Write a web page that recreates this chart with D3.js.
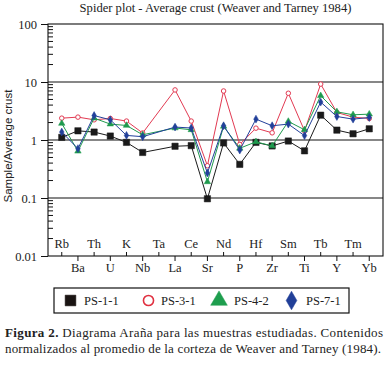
<!DOCTYPE html>
<html><head><meta charset="utf-8">
<script src="https://cdn.jsdelivr.net/npm/d3@7"></script>
<style>body{margin:0;background:#fff}svg{display:block}</style>
</head><body>
<svg id="c" width="388" height="366"></svg>
<script>
const elements = ["Rb","Ba","Th","U","K","Nb","Ta","La","Ce","Sr","Nd","P","Hf","Zr","Sm","Ti","Tb","Y","Tm","Yb"];
const ps11 = [1.11,1.44,1.37,1.17,0.91,0.61,null,0.78,0.80,0.097,0.89,0.38,0.91,0.79,0.96,0.65,2.68,1.48,1.28,1.56];
const ps31 = [2.38,2.48,2.23,2.35,2.12,1.32,null,7.3,2.12,0.36,7.0,0.84,1.6,1.33,6.4,1.44,9.2,2.98,2.48,2.35];
const ps42 = [1.93,0.64,2.38,1.88,1.78,1.23,null,1.61,1.50,0.19,1.72,0.72,0.93,0.79,2.09,1.50,5.8,3.06,2.72,2.79];
const ps71 = [1.37,0.71,2.64,2.23,1.20,1.14,null,1.67,1.61,0.27,1.76,0.67,2.29,1.76,1.88,1.19,4.5,2.54,2.29,2.44];
const seriesNames = ["PS-1-1","PS-3-1","PS-4-2","PS-7-1"];
const yTickValues = [0.01,0.1,1,10,100];
const yTickLabels = ["0.01","0.1","1","10","100"];
const titleText = "Spider plot - Average crust (Weaver and Tarney 1984)";
const yTitle = "Sample/Average crust";
const captionBold = "Figura 2.";
const captionLine1 = " Diagrama Araña para las muestras estudiadas. Contenidos";
const captionLine2 = "normalizados al promedio de la corteza de Weaver and Tarney (1984).";

const svg = d3.select("#c");
const L = 48, R = 383, T = 24, B = 256;
const serif = "'Liberation Serif','Times New Roman',serif";
const sans = "'Liberation Sans',Arial,sans-serif";

const x = d3.scalePoint().domain(elements).range([L, R]).padding(0.85);
const y = d3.scaleLog().domain([0.01, 100]).range([B, T]);

// title
svg.append("text").attr("x", (L+R)/2).attr("y", 12).attr("text-anchor","middle")
  .attr("font-family", serif).attr("font-size", 12.6).attr("fill","#222").text(titleText);

// y title
svg.append("text").attr("transform", `translate(11.5,${(T+B)/2 + 6}) rotate(-90)`)
  .attr("text-anchor","middle").attr("font-family", sans).attr("font-size", 11.5).attr("fill","#222").text(yTitle);

// gridlines at inner decades
svg.append("g").selectAll("line").data([0.1,1,10]).join("line")
  .attr("x1", L).attr("x2", R).attr("y1", d=>y(d)).attr("y2", d=>y(d))
  .attr("stroke","#111").attr("stroke-width",1.1);

// frame
svg.append("rect").attr("x", L).attr("y", T).attr("width", R-L).attr("height", B-T)
  .attr("fill","none").attr("stroke","#111").attr("stroke-width",1.1);

// y axis: major ticks outward, minor inward
const yAxis = svg.append("g").attr("transform", `translate(${L},0)`)
  .call(d3.axisLeft(y).tickValues(yTickValues).tickSize(7).tickFormat((d,i)=>yTickLabels[i]));
yAxis.select(".domain").remove();
yAxis.selectAll("line").attr("stroke","#111");
yAxis.selectAll("text").attr("font-family", serif).attr("font-size", 12.5).attr("fill","#222").attr("dx", -1);
const minors = [];
for (let e = -2; e < 2; e++) for (let m = 2; m <= 9; m++) minors.push(m * Math.pow(10, e));
svg.append("g").selectAll("line").data(minors).join("line")
  .attr("x1", L).attr("x2", L+5).attr("y1", d=>y(d)).attr("y2", d=>y(d))
  .attr("stroke","#111").attr("stroke-width",1);

// x ticks and labels
const xg = svg.append("g");
elements.forEach((el, i) => {
  const px = x(el);
  if (i % 2 === 0) {
    xg.append("line").attr("x1",px).attr("x2",px).attr("y1",B).attr("y2",B-4).attr("stroke","#111");
    xg.append("text").attr("x",px).attr("y",B-8).attr("text-anchor","middle")
      .attr("font-family",serif).attr("font-size",12.5).attr("fill","#222").text(el);
  } else {
    xg.append("line").attr("x1",px).attr("x2",px).attr("y1",B).attr("y2",B+5).attr("stroke","#111");
    xg.append("text").attr("x",px).attr("y",B+16).attr("text-anchor","middle")
      .attr("font-family",serif).attr("font-size",12.5).attr("fill","#222").text(el);
  }
});

// series
const colors = ["#1a1a1a","#e23a52","#1f9a4e","#22409a"];
const allSeries = [ps11, ps31, ps42, ps71];
const line = d3.line().x(d=>x(d.el)).y(d=>y(d.v));
const shapes = [d3.symbolSquare, d3.symbolCircle, d3.symbolTriangle, d3.symbolDiamond];
const sizes = [40, 16, 18, 18];
allSeries.forEach((vals, k) => {
  const pts = elements.map((el,i)=>({el, v: vals[i]})).filter(d=>d.v!=null);
  svg.append("path").datum(pts).attr("d", line).attr("fill","none")
    .attr("stroke", colors[k]).attr("stroke-width", 1);
  svg.append("g").selectAll("path").data(pts).join("path")
    .attr("transform", d=>`translate(${x(d.el)},${y(d.v)})`)
    .attr("d", d3.symbol(shapes[k], sizes[k]))
    .attr("fill", k===1 ? "#fff" : colors[k])
    .attr("stroke", colors[k]).attr("stroke-width", k===1 ? 1 : 0.5);
});

// legend
const lg = svg.append("g");
lg.append("rect").attr("x",54).attr("y",288).attr("width",295).attr("height",25)
  .attr("fill","none").attr("stroke","#111").attr("stroke-width",1.2);
const legPos = [[70.5,84],[148.5,161],[219,234],[291.5,306]];
const legFill = ["#1a1412","#fff","#1e9e4e","#213f98"];
const legStroke = ["#1a1412","#e03040","#1e9e4e","#213f98"];
const legSize = [115, 80, 120, 100];
seriesNames.forEach((nm, k) => {
  const [sx, tx] = legPos[k];
  lg.append("path").attr("transform", `translate(${sx},${300.5})`)
    .attr("d", d3.symbol(shapes[k], legSize[k]))
    .attr("fill", legFill[k]).attr("stroke", legStroke[k]).attr("stroke-width", k===1?1.6:0.5);
  lg.append("text").attr("x", tx).attr("y", 305).attr("font-family", serif)
    .attr("font-size", 12.5).attr("fill","#222").text(nm);
});

// caption
const c1 = svg.append("text").attr("x",5).attr("y",337).attr("font-family",serif)
  .attr("font-size",13).attr("fill","#222").attr("textLength",378).attr("lengthAdjust","spacing");
c1.append("tspan").attr("font-weight","bold").text(captionBold);
c1.append("tspan").text(captionLine1);
svg.append("text").attr("x",5).attr("y",353).attr("font-family",serif)
  .attr("font-size",13).attr("fill","#222").attr("textLength",376).attr("lengthAdjust","spacing").text(captionLine2);
</script>
</body></html>
